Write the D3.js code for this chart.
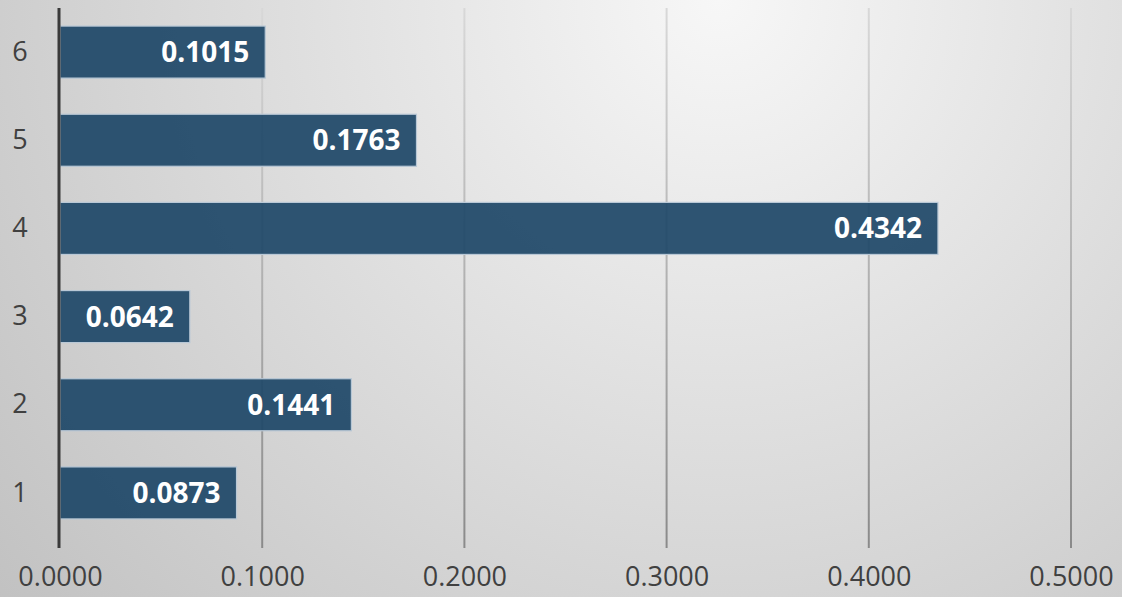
<!DOCTYPE html>
<html lang="en">
<head>
  <meta charset="UTF-8">
  <title>Horizontal Bar Chart</title>
  <script src="https://d3js.org/d3.v7.min.js"></script>
  <style>
    html, body { margin: 0; padding: 0; }
    svg { display: block; }
    text { font-family: "Open Sans", sans-serif; }
  </style>
</head>
<body>
  <svg width="1122" height="597"></svg>

  <script>
    // Data
    const categories = ["1", "2", "3", "4", "5", "6"];
    const values = [0.0873, 0.1441, 0.0642, 0.4342, 0.1763, 0.1015];
    const xTicks = [0, 0.1, 0.2, 0.3, 0.4, 0.5];

    const width = 1122;
    const height = 597;
    const plot = { left: 60, right: 1071, top: 8, bottom: 548 };

    const svg = d3.select("svg");

    // Background gradient
    const defs = svg.append("defs");
    const bg = defs.append("radialGradient")
      .attr("id", "bg")
      .attr("gradientUnits", "userSpaceOnUse")
      .attr("cx", 720).attr("cy", 0).attr("r", 1000);
    bg.append("stop").attr("offset", "0%").attr("stop-color", "#f7f7f7");
    bg.append("stop").attr("offset", "100%").attr("stop-color", "#bebebe");

    const grid = defs.append("linearGradient")
      .attr("id", "grid")
      .attr("gradientUnits", "userSpaceOnUse")
      .attr("x1", 0).attr("y1", plot.top).attr("x2", 0).attr("y2", plot.bottom);
    grid.append("stop").attr("offset", "0%").attr("stop-color", "#d8d8d8");
    grid.append("stop").attr("offset", "100%").attr("stop-color", "#8a8a8a");

    svg.append("rect")
      .attr("width", width).attr("height", height)
      .attr("fill", "url(#bg)");

    // Scales
    const x = d3.scaleLinear()
      .domain([0, 0.5])
      .range([plot.left, plot.right]);

    const y = d3.scaleBand()
      .domain(categories.slice().reverse())
      .range([plot.top, 537])
      .paddingInner(0.41)
      .paddingOuter(0.205);

    // Gridlines
    svg.append("g")
      .selectAll("line")
      .data(xTicks.slice(1))
      .join("line")
      .attr("x1", d => x(d)).attr("x2", d => x(d))
      .attr("y1", plot.top).attr("y2", plot.bottom)
      .attr("stroke", "url(#grid)")
      .attr("stroke-width", 2);

    // X axis labels
    const xAxis = svg.append("g")
      .attr("transform", `translate(0,${plot.bottom})`)
      .call(d3.axisBottom(x).tickValues(xTicks).tickFormat(d3.format(".4f")).tickSize(0).tickPadding(19));
    xAxis.select(".domain").remove();
    xAxis.selectAll("text")
      .attr("fill", "#404040")
      .style("font-size", "27px");

    // Bars
    svg.selectAll(".bar")
      .data(values)
      .join("rect")
      .attr("class", "bar")
      .attr("x", x(0))
      .attr("y", (d, i) => y(categories[i]))
      .attr("width", d => x(d) - x(0))
      .attr("height", y.bandwidth())
      .attr("fill", "#1f4868")
      .attr("fill-opacity", 0.93)
      .attr("stroke", "#b9c8d6")
      .attr("stroke-width", 1.2);

    // Data labels
    svg.selectAll(".label")
      .data(values)
      .join("text")
      .attr("class", "label")
      .attr("x", d => x(d) - 16)
      .attr("y", (d, i) => y(categories[i]) + y.bandwidth() / 2)
      .attr("dy", "0.36em")
      .attr("text-anchor", "end")
      .attr("fill", "#ffffff")
      .style("font-size", "28px")
      .style("font-weight", "bold")
      .text(d => d3.format(".4f")(d));

    // Y axis
    const yAxis = svg.append("g")
      .attr("transform", `translate(${plot.left},0)`)
      .call(d3.axisLeft(y).tickSize(0).tickPadding(30));
    yAxis.select(".domain").remove();
    yAxis.selectAll("text")
      .attr("fill", "#404040")
      .attr("text-anchor", "middle")
      .attr("x", -40)
      .style("font-size", "27px");

    svg.append("line")
      .attr("x1", plot.left - 1).attr("x2", plot.left - 1)
      .attr("y1", plot.top).attr("y2", plot.bottom)
      .attr("stroke", "#3a3a3a")
      .attr("stroke-width", 3);
  </script>
</body>
</html>
